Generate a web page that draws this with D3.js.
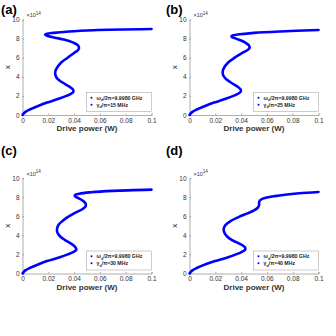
<!DOCTYPE html>
<html>
<head>
<meta charset="utf-8">
<script src="https://cdn.jsdelivr.net/npm/d3@7"></script>
<style>
  body { margin: 0; background: #fff; }
  text { font-family: "Liberation Sans", Arial, sans-serif; }
</style>
</head>
<body>
<svg id="chart" width="336" height="336"></svg>
<script>
// x (units of 1e14) and drive power (W)
var xA = [0, 0.3, 0.6, 1.0, 1.3, 1.7, 2.0, 2.25, 2.45, 2.7, 3.0, 3.4, 3.8, 4.2, 4.6, 5.0, 5.5, 6.0, 6.5, 6.8, 7.0, 7.3, 7.6, 7.9, 8.1, 8.3, 8.4, 8.5, 8.6, 8.75, 8.88, 9.0];
var pA = [0, 0.002, 0.006, 0.013, 0.019, 0.028, 0.034, 0.038, 0.0395, 0.039, 0.036, 0.031, 0.027, 0.0255, 0.0255, 0.027, 0.030, 0.035, 0.040, 0.043, 0.0438, 0.043, 0.039, 0.032, 0.025, 0.019, 0.0175, 0.019, 0.024, 0.036, 0.055, 0.1];

var xB = [0, 0.3, 0.6, 1.0, 1.3, 1.7, 2.0, 2.25, 2.45, 2.7, 3.0, 3.4, 3.8, 4.2, 4.6, 5.0, 5.5, 6.0, 6.5, 6.8, 7.0, 7.3, 7.6, 7.8, 8.0, 8.15, 8.25, 8.35, 8.45, 8.6, 8.75, 8.9];
var pB = [0, 0.002, 0.006, 0.013, 0.019, 0.028, 0.034, 0.038, 0.0398, 0.0395, 0.037, 0.032, 0.028, 0.026, 0.0258, 0.027, 0.030, 0.035, 0.041, 0.045, 0.0465, 0.046, 0.043, 0.040, 0.036, 0.033, 0.0325, 0.034, 0.039, 0.050, 0.07, 0.1];

var xC = [0, 0.3, 0.6, 1.0, 1.3, 1.7, 2.0, 2.3, 2.5, 2.75, 3.1, 3.5, 3.9, 4.3, 4.7, 5.1, 5.5, 5.9, 6.3, 6.7, 7.0, 7.3, 7.6, 7.85, 8.05, 8.2, 8.35, 8.5, 8.65, 8.78];
var pC = [0, 0.002, 0.006, 0.013, 0.019, 0.029, 0.035, 0.040, 0.0418, 0.041, 0.038, 0.033, 0.029, 0.027, 0.0268, 0.028, 0.031, 0.035, 0.040, 0.046, 0.0488, 0.049, 0.047, 0.044, 0.041, 0.0405, 0.044, 0.053, 0.07, 0.1];

var xD = [0, 0.3, 0.6, 1.0, 1.3, 1.7, 2.0, 2.3, 2.5, 2.75, 3.1, 3.5, 3.9, 4.3, 4.7, 5.1, 5.5, 5.9, 6.3, 6.6, 6.9, 7.2, 7.5, 7.75, 7.95, 8.1, 8.25, 8.4, 8.54];
var pD = [0, 0.002, 0.006, 0.013, 0.020, 0.030, 0.036, 0.041, 0.0432, 0.043, 0.039, 0.033, 0.029, 0.027, 0.0265, 0.028, 0.032, 0.038, 0.045, 0.050, 0.053, 0.054, 0.054, 0.0555, 0.060, 0.066, 0.074, 0.085, 0.1];

var panelNames = ["(a)", "(b)", "(c)", "(d)"];
var gammaLabels = ["15", "25", "30", "40"];
var xTicks = [0, 0.02, 0.04, 0.06, 0.08, 0.1];
var yTicks = [0, 2, 4, 6, 8, 10];

var series = [[xA, pA], [xB, pB], [xC, pC], [xD, pD]];
var svg = d3.select("#chart");

var origins = [[0, 0], [168, 0], [0, 168], [168, 168]];
var plotTop = [19.5, 19.5, 10, 10];
var plotLeft = [22.5, 21.5, 22.5, 21.5];
var w = 129, h = 95.5;

panelNames.forEach(function (name, i) {
    var g = svg.append("g")
        .attr("transform", "translate(" + origins[i][0] + "," + origins[i][1] + ")");

    var labelY = i < 2 ? 14 : -13;
    g.append("text")
        .attr("x", i % 2 === 0 ? 1 : -2)
        .attr("y", labelY)
        .attr("font-size", 13)
        .attr("font-weight", "bold")
        .attr("fill", "#000")
        .text(name);

    var p = g.append("g")
        .attr("transform", "translate(" + plotLeft[i] + "," + plotTop[i] + ")");

    var x = d3.scaleLinear().domain([0, 0.1]).range([0, w]);
    var y = d3.scaleLinear().domain([0, 10]).range([h, 0]);

    var xa = p.append("g")
        .attr("transform", "translate(0," + h + ")")
        .call(d3.axisBottom(x).tickValues(xTicks).tickSize(-1.5).tickPadding(3)
            .tickFormat(function (d) { return d === 0 ? "0" : d3.format("")(+d.toFixed(2)); }));
    var ya = p.append("g")
        .call(d3.axisLeft(y).tickValues(yTicks).tickSize(-1.5).tickPadding(3));

    [xa, ya].forEach(function (a) {
        a.select(".domain").attr("stroke", "#777").attr("stroke-width", 0.6);
        a.selectAll(".tick line").attr("stroke", "#777").attr("stroke-width", 0.6);
        a.selectAll(".tick text").attr("font-size", 6.5).attr("fill", "#333")
            .style("font-family", "'Liberation Sans', Arial, sans-serif");
    });

    p.append("text")
        .attr("x", 4)
        .attr("y", -2.5)
        .attr("font-size", 5.5)
        .attr("fill", "#333")
        .text("\u00d710")
        .append("tspan")
        .attr("dy", -2.5)
        .attr("font-size", 4.5)
        .text("14");

    p.append("text")
        .attr("x", w / 2)
        .attr("y", h + 16)
        .attr("text-anchor", "middle")
        .attr("font-size", 8)
        .attr("font-weight", "bold")
        .attr("fill", "#333")
        .text("Drive power (W)");

    p.append("text")
        .attr("transform", "translate(" + (-13) + "," + (h / 2) + ") rotate(-90)")
        .attr("text-anchor", "middle")
        .attr("font-size", 8)
        .attr("fill", "#333")
        .text("x");

    var xs = series[i][0], ps = series[i][1];
    var pts = xs.map(function (v, k) { return [ps[k], v]; });
    var line = d3.line()
        .x(function (d) { return x(d[0]); })
        .y(function (d) { return y(d[1]); })
        .curve(d3.curveCatmullRom.alpha(0.5));

    p.append("path")
        .datum(pts)
        .attr("fill", "none")
        .attr("stroke", "#0000ff")
        .attr("stroke-width", 2.6)
        .attr("stroke-linecap", "round")
        .attr("d", line);

    // legend
    var lg = p.append("g").attr("transform", "translate(" + (w - 65) + "," + (h - 22.5) + ")");
    lg.append("rect")
        .attr("width", 65).attr("height", 19)
        .attr("fill", "#fff").attr("stroke", "#999").attr("stroke-width", 0.5);
    [7, 14].forEach(function (ly, k) {
        lg.append("circle").attr("cx", 5).attr("cy", ly - 1.8).attr("r", 1).attr("fill", "#0000ff");
        var t = lg.append("text").attr("x", 10).attr("y", ly).attr("font-size", 5.2)
            .attr("font-weight", "bold").attr("fill", "#222");
        if (k === 0) {
            t.append("tspan").text("\u03c9");
            t.append("tspan").attr("dy", 1.5).attr("font-size", 3.8).text("d");
            t.append("tspan").attr("dy", -1.5).text("/2\u03c0=9.9980 GHz");
        } else {
            t.append("tspan").text("\u03b3");
            t.append("tspan").attr("dy", 1.5).attr("font-size", 3.8).text("d");
            t.append("tspan").attr("dy", -1.5).text("/\u03c0=" + gammaLabels[i] + " MHz");
        }
    });
});
</script>
</body>
</html>
